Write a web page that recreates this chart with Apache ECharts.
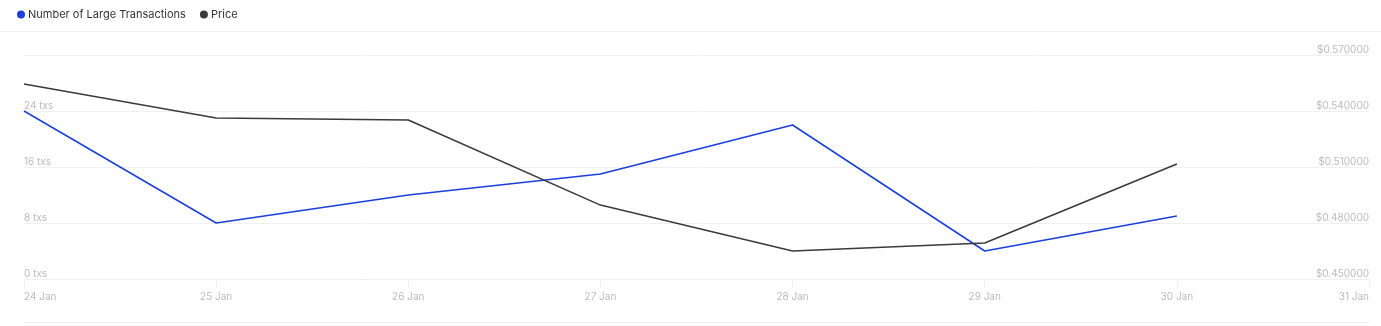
<!DOCTYPE html>
<html>
<head>
<meta charset="utf-8">
<script src="https://cdn.jsdelivr.net/npm/echarts@6/dist/echarts.min.js"></script>
<style>
html,body{margin:0;padding:0;background:#fff;}
#chart{width:1381px;height:326px;}
</style>
</head>
<body>
<div id="chart"></div>
<script>
const categories = ['24 Jan','25 Jan','26 Jan','27 Jan','28 Jan','29 Jan','30 Jan','31 Jan'];
const largeTx = [24, 8, 12, 15, 22, 4, 9, null];
const price = [0.5545, 0.5362, 0.5352, 0.4896, 0.465, 0.4693, 0.5116, null];
const txTicks = [0, 8, 16, 24, 32];
const priceTicks = [0.45, 0.48, 0.51, 0.54, 0.57];

const chart = echarts.init(document.getElementById('chart'));
const font = 'Inter, "Noto Sans", sans-serif';
chart.setOption({
  animation: false,
  textStyle: {fontFamily: font},
  legend: {
    left: 12, top: 4, itemWidth: 8, itemHeight: 8, itemGap: 14,
    icon: 'circle',
    textStyle: {fontSize: 11, color: '#333', fontFamily: font, padding: [0,0,0,-2]},
    data: ['Number of Large Transactions', 'Price']
  },
  graphic: [
    {type: 'line', shape: {x1: 0, y1: 31.5, x2: 1381, y2: 31.5}, style: {stroke: '#efefef', lineWidth: 1}},
    {type: 'line', shape: {x1: 24, y1: 322.5, x2: 1369, y2: 322.5}, style: {stroke: '#eeeeee', lineWidth: 1}}
  ],
  grid: {left: 24, right: 12, top: 55, bottom: 47, containLabel: false},
  xAxis: {
    type: 'category', data: categories, boundaryGap: false,
    axisLine: {show: true, lineStyle: {color: '#eeeeee'}},
    axisTick: {show: true, length: 8, lineStyle: {color: '#eeeeee'}},
    axisLabel: {color: '#bbbbbb', fontSize: 10, margin: 13, alignMinLabel: 'left', alignMaxLabel: 'right', fontFamily: font},
    splitLine: {show: false}
  },
  yAxis: [
    {
      type: 'value', min: txTicks[0], max: txTicks[txTicks.length-1], interval: 8, position: 'left',
      axisLine: {show: false}, axisTick: {show: false},
      axisLabel: {inside: true, color: '#bbbbbb', fontSize: 10, verticalAlign: 'bottom', margin: 0, padding: [0,0,0,0],
        formatter: v => (v === 32 ? '' : v + ' txs'), fontFamily: font},
      splitLine: {lineStyle: {color: '#f0f0f0'}}
    },
    {
      type: 'value', min: priceTicks[0], max: priceTicks[priceTicks.length-1], interval: 0.03, position: 'right',
      axisLine: {show: false}, axisTick: {show: false},
      axisLabel: {inside: true, color: '#bbbbbb', fontSize: 10, verticalAlign: 'bottom', margin: 0, padding: [0,0,0,0],
        formatter: v => '$' + v.toFixed(6), fontFamily: font},
      splitLine: {show: false}
    }
  ],
  series: [
    {
      name: 'Number of Large Transactions', type: 'line', yAxisIndex: 0, data: largeTx,
      symbol: 'none', lineStyle: {color: '#1a3fdc', width: 1.5}, itemStyle: {color: '#1a3fdc'}
    },
    {
      name: 'Price', type: 'line', yAxisIndex: 1, data: price,
      symbol: 'none', lineStyle: {color: '#3a3a3a', width: 1.5}, itemStyle: {color: '#3a3a3a'}
    }
  ]
});
</script>
</body>
</html>
